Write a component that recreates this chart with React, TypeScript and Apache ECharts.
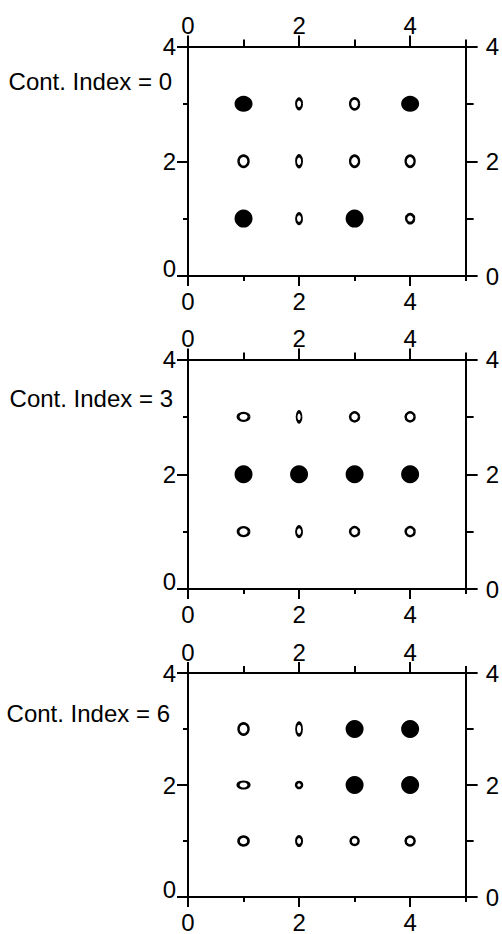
import React, { useEffect, useRef } from "react";
import * as echarts from "echarts";

// ---- data ----
const panelTitles = ["Cont. Index = 0", "Cont. Index = 3", "Cont. Index = 6"];
const xMajorTicks = [0, 2, 4];
const xMinorTicks = [1, 3, 5];
const yMajorTicks = [0, 2, 4];
const yMinorTicks = [1, 3];

const pointX = [1, 2, 3, 4, 1, 2, 3, 4, 1, 2, 3, 4];
const pointY = [3, 3, 3, 3, 2, 2, 2, 2, 1, 1, 1, 1];

// 1 = filled disk, 0 = hollow ellipse
const filled0 = [1, 0, 0, 1, 0, 0, 0, 0, 1, 0, 1, 0];
const ellipseW0 = [18, 8, 11, 18, 12, 8, 11, 11, 18, 8, 18, 10];
const ellipseH0 = [16, 12, 13, 16, 13, 13, 13, 13, 18, 12, 18, 11];

const filled1 = [0, 0, 0, 0, 1, 1, 1, 1, 0, 0, 0, 0];
const ellipseW1 = [13, 7, 11, 11, 18, 18, 18, 18, 13, 8, 11, 11];
const ellipseH1 = [10, 12, 11, 11, 18, 18, 18, 18, 11, 12, 11, 11];

const filled2 = [0, 0, 1, 1, 0, 0, 1, 1, 0, 0, 0, 0];
const ellipseW2 = [12, 8, 18, 18, 13, 8, 18, 18, 12, 8, 10, 11];
const ellipseH2 = [13, 14, 18, 18, 9, 8, 18, 18, 11, 11, 10, 11];

const panels = [
  { filled: filled0, w: ellipseW0, h: ellipseH0 },
  { filled: filled1, w: ellipseW1, h: ellipseH1 },
  { filled: filled2, w: ellipseW2, h: ellipseH2 },
];

// ---- layout ----
const FONT = "'Liberation Sans', Arial, Helvetica, sans-serif";
const FS = 24;
const gridTops = [46.5, 359.5, 673];
const gridH = 229.5;
const gridLeft = 188;
const gridW = 285;
const titleY = [81, 398, 713];
const titleX = [172, 173, 170];
const LW = 2;

function buildOption() {
  const grid: any[] = [];
  const xAxis: any[] = [];
  const yAxis: any[] = [];
  const series: any[] = [];
  const graphic: any[] = [];
  const lineStyle = { color: "#000", width: LW };
  const labelBase = { color: "#000", fontSize: FS, fontFamily: FONT };

  panels.forEach((p, i) => {
    grid.push({ left: gridLeft, top: gridTops[i], width: gridW, height: gridH, containLabel: false });
    const mkX = (position: string, ticks: number[], len: number, showLine: boolean, showLabel: boolean, margin: number) => ({
      type: "value",
      gridIndex: i,
      position,
      min: 0,
      max: 5,
      axisLine: { show: showLine, onZero: false, lineStyle },
      axisTick: { show: true, customValues: ticks, length: len, lineStyle },
      axisLabel: { show: showLabel, customValues: ticks, margin, ...labelBase },
      splitLine: { show: false },
      minorTick: { show: false },
    });
    const mkY = (position: string, ticks: number[], len: number, showLine: boolean, showLabel: boolean, margin: number, shiftZero: boolean) => ({
      type: "value",
      gridIndex: i,
      position,
      min: 0,
      max: 4,
      axisLine: { show: showLine, onZero: false, lineStyle },
      axisTick: { show: true, customValues: ticks, length: len, lineStyle },
      axisLabel: {
        show: showLabel,
        customValues: ticks,
        margin,
        ...labelBase,
        formatter: (v: number) => (shiftZero && v === 0 ? "{lo|0}" : String(v)),
        rich: { lo: { ...labelBase, padding: [0, 0, 16, 0] } },
      },
      splitLine: { show: false },
      minorTick: { show: false },
    });
    const xBase = xAxis.length;
    xAxis.push(mkX("bottom", xMajorTicks, 10, true, true, 13));
    xAxis.push(mkX("bottom", xMinorTicks, 5, false, false, 8));
    xAxis.push(mkX("top", xMajorTicks, 11, true, true, 9));
    xAxis.push(mkX("top", xMinorTicks, 7, false, false, 8));
    const yBase = yAxis.length;
    yAxis.push(mkY("left", yMajorTicks, 11, true, true, 12, true));
    yAxis.push(mkY("left", yMinorTicks, 5, false, false, 8, false));
    yAxis.push(mkY("right", yMajorTicks, 12, true, true, 20, false));
    yAxis.push(mkY("right", yMinorTicks, 8, false, false, 8, false));

    const data = pointX.map((x, k) => {
      const isFilled = p.filled[k] === 1;
      return {
        value: [x, pointY[k]],
        symbolSize: isFilled ? [p.w[k], p.h[k]] : [p.w[k] - LW, p.h[k] - LW],
        itemStyle: isFilled
          ? { color: "#000", borderWidth: 0, opacity: 1 }
          : { color: "#fff", borderColor: "#000", borderWidth: LW + 0.5, opacity: 1 },
      };
    });
    series.push({
      type: "scatter",
      xAxisIndex: xBase,
      yAxisIndex: yBase,
      symbol: "circle",
      itemStyle: { opacity: 1 },
      data,
      silent: true,
    });

    graphic.push({
      type: "text",
      x: titleX[i],
      y: titleY[i],
      style: {
        text: panelTitles[i],
        fill: "#000",
        fontSize: FS,
        fontFamily: FONT,
        align: "right",
        verticalAlign: "middle",
      },
    });
  });

  return {
    animation: false,
    backgroundColor: "#fff",
    grid,
    xAxis,
    yAxis,
    series,
    graphic,
  };
}

export default function App() {
  const ref = useRef<HTMLDivElement>(null);
  useEffect(() => {
    if (!ref.current) return;
    const chart = echarts.init(ref.current, undefined, { renderer: "svg" });
    chart.setOption(buildOption() as any);
    return () => chart.dispose();
  }, []);
  return (
    <div
      ref={ref}
      style={{ position: "fixed", left: 0, top: 0, width: 502, height: 934, background: "#fff" }}
    />
  );
}
